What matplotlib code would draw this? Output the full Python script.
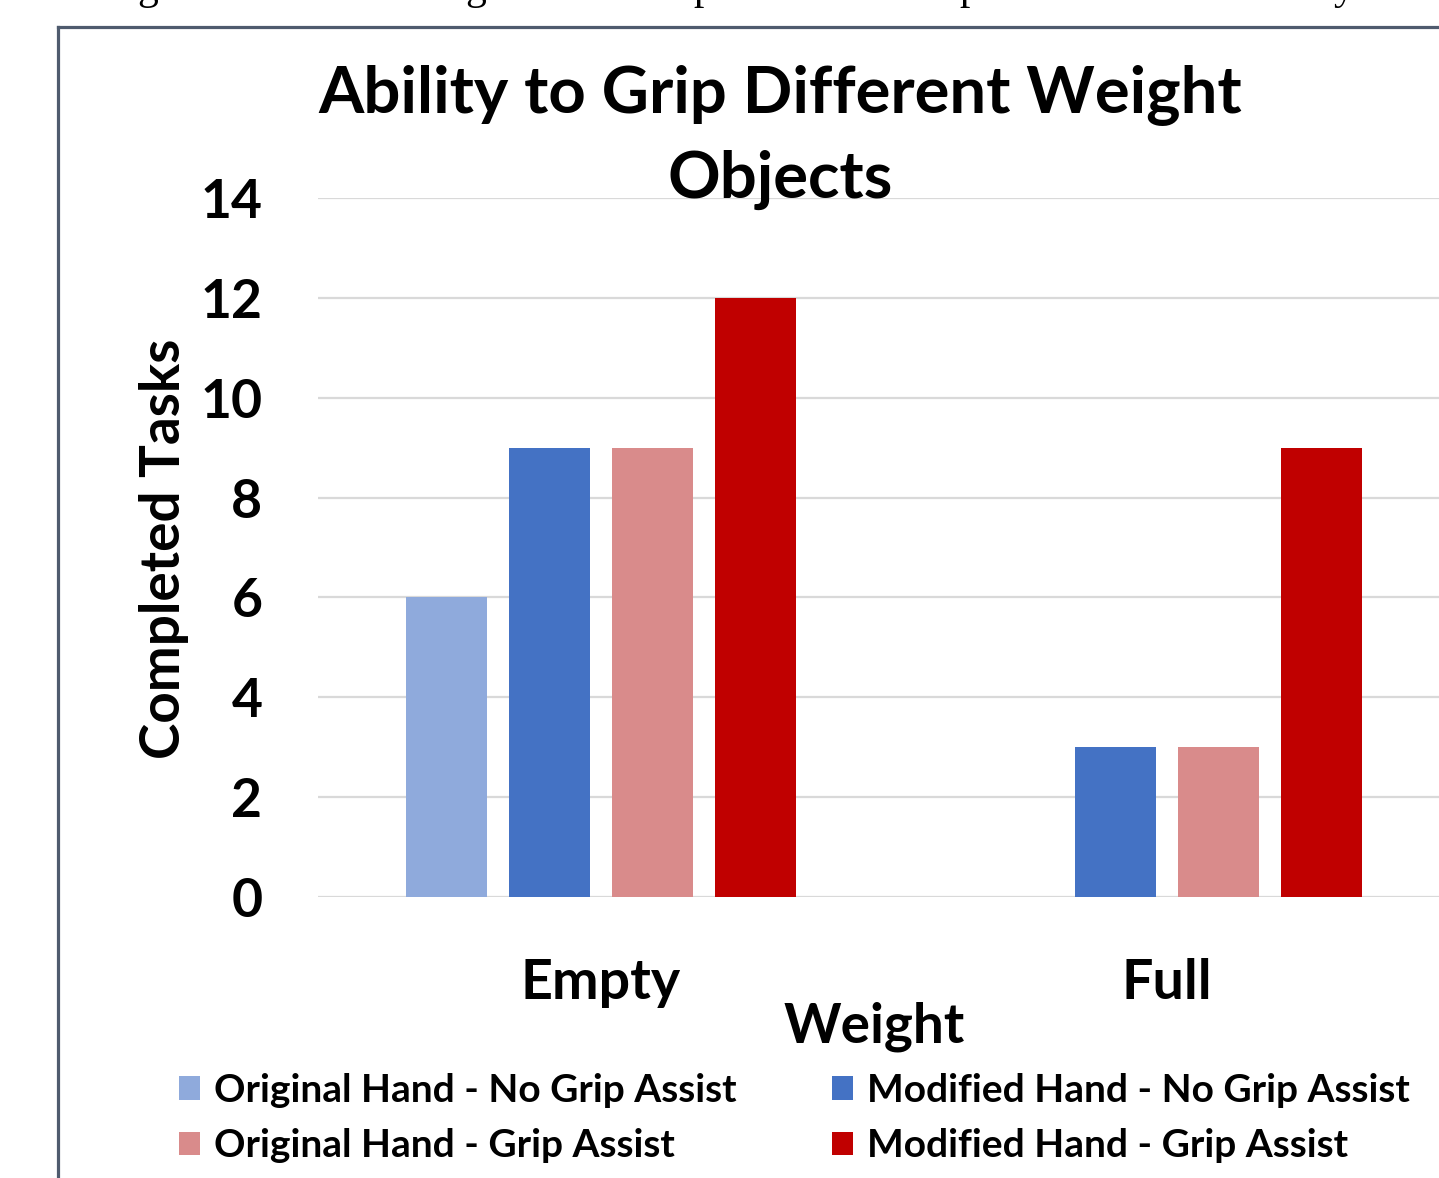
import matplotlib
matplotlib.use("Agg")
import matplotlib.pyplot as plt
import numpy as np
from matplotlib.lines import Line2D
from matplotlib.patches import Patch

# ---- data ----
categories = ["Empty", "Full"]
series_names = [
    "Original Hand - No Grip Assist",
    "Modified Hand - No Grip Assist",
    "Original Hand - Grip Assist",
    "Modified Hand - Grip Assist",
]
orig_no_assist = [6, 0]
mod_no_assist = [9, 3]
orig_assist = [9, 3]
mod_assist = [12, 9]
y_ticks = [0, 2, 4, 6, 8, 10, 12, 14]

series_values = [orig_no_assist, mod_no_assist, orig_assist, mod_assist]
colors = ["#8FAADC", "#4472C4", "#D98B8B", "#C00000"]

FONT = "Lato"
W, H = 1439, 1178
fig = plt.figure(figsize=(W / 100, H / 100), dpi=100)
fig.patch.set_facecolor("white")

def fx(px):
    return px / W

def fy(py):
    return 1 - py / H

# caption line of the surrounding document, mostly above the visible area
for ch, xpx in zip(["g", "g", "p", "p", "y"], [148, 476, 704, 970, 1344]):
    fig.text(fx(xpx), 1 + 1.0 / H, ch, family="Liberation Serif", fontsize=30,
             ha="center", va="baseline", color="black")

# outer frame (left and top edges)
frame_col = "#4F5B6E"
fig.add_artist(Line2D([fx(58.5), fx(58.5)], [0, fy(26.5)], color=frame_col,
                      lw=2.3, solid_capstyle="projecting", transform=fig.transFigure))
fig.add_artist(Line2D([fx(58.5), 1.02], [fy(26.5), fy(26.5)], color=frame_col,
                      lw=2.3, solid_capstyle="projecting", transform=fig.transFigure))

# plot area: categories at 0 and 1, each spanning one unit
left_px, right_px = 318, 1450
top_px, bot_px = 198, 897
ax = fig.add_axes([fx(left_px), fy(bot_px), fx(right_px - left_px), (bot_px - top_px) / H])
ax.set_xlim(-0.5, 1.5)
ax.set_ylim(0, 14)

x = np.arange(len(categories))
pitch = 0.182
width = 0.143
for i, (vals, col) in enumerate(zip(series_values, colors)):
    ax.bar(x + (i - 1.5) * pitch, vals, width=width, color=col, zorder=3,
           label=series_names[i])

ax.set_yticks(y_ticks)
ax.set_yticklabels([str(t) for t in y_ticks], fontfamily=FONT, fontweight="bold",
                   fontsize=38.5)
ax.set_xticks(x)
ax.set_xticklabels(categories, fontfamily=FONT, fontweight="bold", fontsize=40)
ax.tick_params(axis="y", length=0, pad=40)
ax.tick_params(axis="x", length=0, pad=44)
ax.grid(axis="y", color="#D9D9D9", lw=1.6, zorder=0)
ax.set_axisbelow(True)
for s in ax.spines.values():
    s.set_visible(False)

# titles
fig.text(fx(780), fy(198), "Ability to Grip Different Weight\nObjects",
         family=FONT, fontweight="bold", fontsize=47, ha="center", va="baseline",
         linespacing=1.5)
fig.text(fx(874), fy(1043), "Weight", family=FONT, fontweight="bold",
         fontsize=39.5, ha="center", va="baseline")
fig.text(fx(139), fy(548.5), "Completed Tasks", family=FONT, fontweight="bold",
         fontsize=39.5, ha="left", va="center", rotation=90)

# legend
handles = [Patch(facecolor=c, edgecolor="none") for c in colors]
order = [0, 2, 1, 3]
fig.legend([handles[k] for k in order], [series_names[k] for k in order],
           loc="upper left", bbox_to_anchor=(fx(179), fy(1073)), ncol=2,
           frameon=False, prop={"family": FONT, "weight": "bold", "size": 28},
           handlelength=0.54, handleheight=0.57, handletextpad=0.36,
           columnspacing=2.45, labelspacing=0.52, borderpad=0, borderaxespad=0)

fig.savefig("out.png", dpi=100, facecolor="white")
